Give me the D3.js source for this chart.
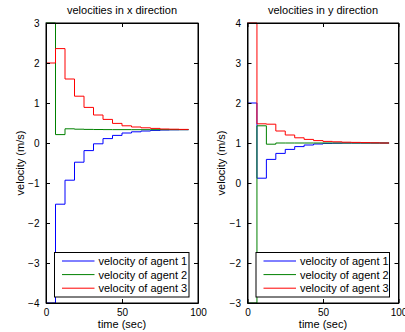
<!DOCTYPE html>
<html>
<head>
<meta charset="utf-8">
<script src="https://cdnjs.cloudflare.com/ajax/libs/d3/7.8.5/d3.min.js"></script>
<style>
  body { margin: 0; background: #fff; }
  svg text { font-family: "Liberation Sans", Arial, Helvetica, sans-serif; fill: #000; }
</style>
</head>
<body>
<div id="chart"></div>
<script>

// sample times (stairs)
var time = [0, 6.25, 12.5, 18.75, 25, 31.25, 37.5, 43.75, 50, 56.25, 62.5, 68.75, 75, 81.25, 87.5, 93.75];

// velocities in x direction
var vx1 = [-4, -1.53, -0.93, -0.48, -0.19, -0.02, 0.11, 0.19, 0.25, 0.28, 0.30, 0.315, 0.325, 0.33, 0.333, 0.333];
var vx2 = [3, 0.21, 0.355, 0.345, 0.34, 0.337, 0.335, 0.334, 0.334, 0.333, 0.333, 0.333, 0.333, 0.333, 0.333, 0.333];
var vx3 = [2, 2.36, 1.6, 1.17, 0.89, 0.70, 0.59, 0.49, 0.43, 0.40, 0.38, 0.365, 0.35, 0.345, 0.34, 0.335];

// velocities in y direction
var vy1 = [2, 0.12, 0.59, 0.74, 0.84, 0.91, 0.95, 0.975, 0.99, 0.995, 1.0, 1.0, 1.0, 1.0, 1.0, 1.0];
var vy2 = [-3, 1.43, 0.97, 1.0, 1.0, 1.0, 1.0, 1.0, 1.0, 1.0, 1.0, 1.0, 1.0, 1.0, 1.0, 1.0];
var vy3 = [4, 1.48, 1.47, 1.3, 1.2, 1.13, 1.09, 1.06, 1.04, 1.03, 1.02, 1.015, 1.01, 1.005, 1.0, 1.0];

var seriesNames = ['velocity of agent 1', 'velocity of agent 2', 'velocity of agent 3'];
var colors = ['#0000ff', '#008000', '#ff0000'];

var xTicks = [0, 50, 100];
var yTicksX = [-4, -3, -2, -1, 0, 1, 2, 3];
var yTicksY = [-3, -2, -1, 0, 1, 2, 3, 4];

var width = 405, height = 332;

var svg = d3.select('#chart').append('svg')
  .attr('width', width)
  .attr('height', height);

var panels = [
  { title: 'velocities in x direction', left: 46, right: 198, series: [vx1, vx2, vx3], yDomain: [-4, 3], yTicks: yTicksX, ylabX: 24 },
  { title: 'velocities in y direction', left: 247.5, right: 398.5, series: [vy1, vy2, vy3], yDomain: [-3, 4], yTicks: yTicksY, ylabX: 225 }
];

var plotTop = 23, plotBottom = 303;
var fmt = d3.format('d');

panels.forEach(function(p) {
  var x = d3.scaleLinear().domain([0, 100]).range([p.left, p.right]);
  var y = d3.scaleLinear().domain(p.yDomain).range([plotBottom, plotTop]);
  var g = svg.append('g');

  // stairs
  var line = d3.line()
    .x(function(d) { return x(d[0]); })
    .y(function(d) { return y(d[1]); })
    .curve(d3.curveStepAfter);

  p.series.forEach(function(vals, i) {
    g.append('path')
      .datum(time.map(function(t, k) { return [t, vals[k]]; }))
      .attr('d', line)
      .attr('fill', 'none')
      .attr('stroke', colors[i])
      .attr('stroke-width', 1);
  });

  // axes, ticks inward on all four sides
  var tl = 4;
  g.append('g').attr('transform', 'translate(0,' + plotBottom + ')')
    .call(d3.axisBottom(x).tickValues(xTicks).tickFormat(fmt).tickSizeInner(-tl).tickSizeOuter(0).tickPadding(6));
  g.append('g').attr('transform', 'translate(0,' + plotTop + ')')
    .call(d3.axisTop(x).tickValues(xTicks).tickSizeInner(-tl).tickSizeOuter(0).tickFormat(''));
  g.append('g').attr('transform', 'translate(' + p.left + ',0)')
    .call(d3.axisLeft(y).tickValues(p.yTicks).tickFormat(fmt).tickSizeInner(-tl).tickSizeOuter(0).tickPadding(6.5));
  g.append('g').attr('transform', 'translate(' + p.right + ',0)')
    .call(d3.axisRight(y).tickValues(p.yTicks).tickSizeInner(-tl).tickSizeOuter(0).tickFormat(''));

  g.selectAll('.domain').attr('stroke', '#000');
  g.selectAll('.tick line').attr('stroke', '#000');
  g.selectAll('g').attr('font-family', null).attr('font-size', null);
  g.selectAll('.tick text').attr('font-size', '10px');

  // box
  g.append('rect')
    .attr('x', p.left).attr('y', plotTop)
    .attr('width', p.right - p.left).attr('height', plotBottom - plotTop)
    .attr('fill', 'none').attr('stroke', '#000');

  // title and labels
  g.append('text')
    .attr('x', (p.left + p.right) / 2).attr('y', 14)
    .attr('text-anchor', 'middle').attr('font-size', '11px')
    .text(p.title);
  g.append('text')
    .attr('x', (p.left + p.right) / 2).attr('y', 328)
    .attr('text-anchor', 'middle').attr('font-size', '11px')
    .text('time (sec)');
  g.append('text')
    .attr('transform', 'translate(' + p.ylabX + ',' + (plotTop + plotBottom) / 2 + ') rotate(-90)')
    .attr('text-anchor', 'middle').attr('font-size', '11px')
    .text('velocity (m/s)');

  // legend
  var lx = p.left + 8.5, lw = p.right - p.left - 17.5, ly = 252.5, lh = 44.5;
  var leg = g.append('g');
  leg.append('rect')
    .attr('x', lx).attr('y', ly).attr('width', lw).attr('height', lh)
    .attr('fill', '#fff').attr('stroke', '#000');
  seriesNames.forEach(function(name, i) {
    var ry = 261 + i * 13.6;
    leg.append('line')
      .attr('x1', lx + 7.5).attr('x2', lx + 40)
      .attr('y1', ry).attr('y2', ry)
      .attr('stroke', colors[i]);
    leg.append('text')
      .attr('x', lx + 44).attr('y', ry + 4)
      .attr('font-size', '11px')
      .text(name);
  });
});

</script>
</body>
</html>
